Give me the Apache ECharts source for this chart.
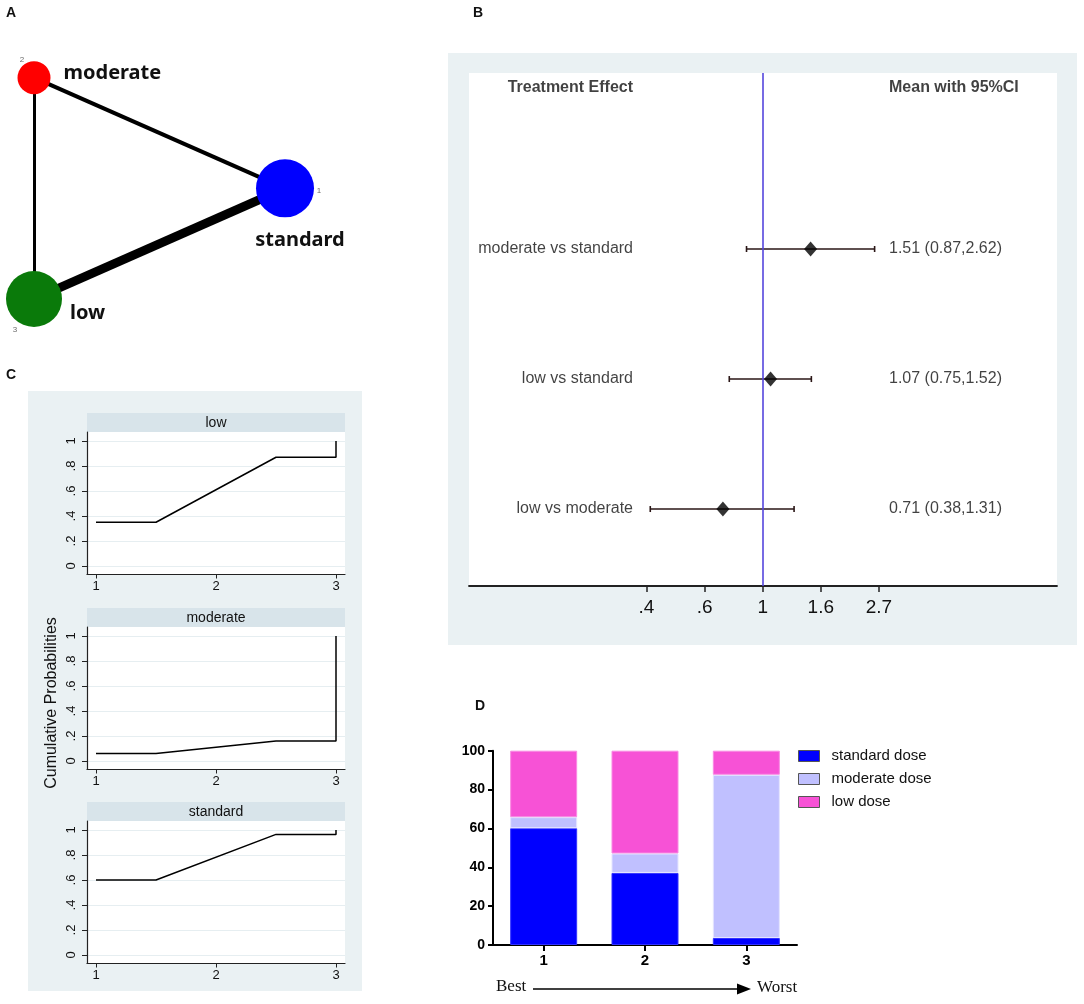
<!DOCTYPE html>
<html>
<head>
<meta charset="utf-8">
<script src="https://cdn.jsdelivr.net/npm/echarts@6.0.0/dist/echarts.min.js"></script>
<style>
html,body{margin:0;padding:0;background:#fff;}
#main{width:1084px;height:1004px;}
</style>
</head>
<body>
<div id="main"></div>
<script>
// ---------- Panel A: network ----------
const netNodes = ['standard', 'moderate', 'low'];
const netNodeIndex = ['1', '2', '3'];
const netNodePos = [[1, 0.5], [0, 1], [0, 0]];
const netNodeSize = [58, 33, 56];
const netNodeColor = ['#0000FF', '#FF0000', '#0A7A0A'];
const netEdges = [['moderate', 'standard'], ['moderate', 'low'], ['low', 'standard']];
const netEdgeWidth = [4, 3, 9];

// ---------- Panel B: forest plot ----------
const comparisons = ['moderate vs standard', 'low vs standard', 'low vs moderate'];
const effMean = [1.51, 1.07, 0.71];
const effLower = [0.87, 0.75, 0.38];
const effUpper = [2.62, 1.52, 1.31];
const forestTickPos = [-1, -0.5, 0, 0.5, 1];
const forestTickLabels = ['.4', '.6', '1', '1.6', '2.7'];

// ---------- Panel C: cumulative rank probabilities ----------
const cumTreatments = ['low', 'moderate', 'standard'];
const cumRanks = [1, 2, 3];
const cumLow = [0.35, 0.87, 1.0];
const cumModerate = [0.06, 0.16, 1.0];
const cumStandard = [0.60, 0.965, 1.0];
const cumYTicks = [0, 0.2, 0.4, 0.6, 0.8, 1];
const cumYTickLabels = ['0', '.2', '.4', '.6', '.8', '1'];

// ---------- Panel D: rank bar chart ----------
const rankCats = ['1', '2', '3'];
const barStandard = [60.1, 37.1, 3.6];
const barModerate = [5.7, 10.0, 84.0];
const barLow = [34.2, 52.9, 12.4];

const chart = echarts.init(document.getElementById('main'), null, {renderer: 'canvas'});
const SANS = 'Liberation Sans, Arial, sans-serif';

const grids = [];
const xAxes = [];
const yAxes = [];
const series = [];
const graphics = [];

// ===== Panel A =====
grids.push({left: 34, top: 77.7, width: 251, height: 221.3, show: false});
xAxes.push({gridIndex: 0, type: 'value', min: 0, max: 1, show: false});
yAxes.push({gridIndex: 0, type: 'value', min: 0, max: 1, show: false});
const labelCfg = {
  moderate: {position: 'right', distance: 13, offset: [0, -4]},
  standard: {position: 'bottom', distance: 13, offset: [15, 0]},
  low: {position: 'right', distance: 8, offset: [0, 14]}
};
const idxOffset = {moderate: [-12, -18], standard: [34, 2], low: [-19, 31]};
series.push({
  type: 'graph', coordinateSystem: 'cartesian2d', xAxisIndex: 0, yAxisIndex: 0,
  silent: true,
  data: netNodes.map((n, i) => ({
    name: n, value: netNodePos[i], symbolSize: netNodeSize[i],
    itemStyle: {color: netNodeColor[i]},
    label: Object.assign({show: true, formatter: n, fontSize: 20, fontWeight: 'bold',
      fontFamily: 'Noto Sans', color: '#111'}, labelCfg[n])
  })),
  links: netEdges.map((e, i) => ({source: e[0], target: e[1],
    lineStyle: {width: netEdgeWidth[i], color: '#000', opacity: 1}})),
  lineStyle: {color: '#000', opacity: 1, curveness: 0}
});
series.push({
  type: 'scatter', xAxisIndex: 0, yAxisIndex: 0, silent: true, symbolSize: 0, z: 5,
  data: netNodes.map((n, i) => ({value: netNodePos[i],
    label: {show: true, position: 'inside', formatter: netNodeIndex[i], offset: idxOffset[n],
      fontSize: 8, color: '#444', fontFamily: SANS}}))
});

// ===== Panel B =====
graphics.push({type: 'rect', shape: {x: 448, y: 53, width: 629, height: 592}, style: {fill: '#EAF1F3'}, z: -10, silent: true});
grids.push({left: 469, top: 73, width: 588, height: 513, show: true, backgroundColor: '#fff', borderWidth: 0});
const pxPerLog = 116.2, zeroPx = 762.7;
xAxes.push({gridIndex: 1, type: 'value', min: (469 - zeroPx) / pxPerLog, max: (1057 - zeroPx) / pxPerLog,
  axisLine: {show: true, onZero: false, lineStyle: {color: '#222', width: 1.8}},
  axisTick: {show: true, customValues: forestTickPos, length: 6, lineStyle: {color: '#222', width: 1.5}},
  axisLabel: {show: true, customValues: forestTickPos, margin: 12, fontSize: 19, color: '#111', fontFamily: SANS,
    formatter: v => forestTickLabels[forestTickPos.findIndex(t => Math.abs(t - v) < 1e-6)] || ''},
  splitLine: {show: false}
});
const rowY = i => comparisons.length - i; // 3,2,1
const headerY = 4.24;
yAxes.push({gridIndex: 1, type: 'value', min: 0.408, max: 4.354, show: false});
const textX = (633 - zeroPx) / pxPerLog;
const ciX = (889 - zeroPx) / pxPerLog;
const txtStyle = {fontSize: 16, color: '#111', fontFamily: SANS};
// error bars
series.push({
  type: 'custom', xAxisIndex: 1, yAxisIndex: 1, silent: true, z: 3,
  data: comparisons.map((c, i) => [rowY(i), Math.log(effLower[i]), Math.log(effUpper[i])]),
  encode: {x: [1, 2], y: 0},
  renderItem: (params, api) => {
    const y = api.value(0);
    const p1 = api.coord([api.value(1), y]);
    const p2 = api.coord([api.value(2), y]);
    const st = {stroke: '#2a1616', lineWidth: 1.6};
    return {type: 'group', children: [
      {type: 'line', shape: {x1: p1[0], y1: p1[1], x2: p2[0], y2: p2[1]}, style: st},
      {type: 'line', shape: {x1: p1[0], y1: p1[1] - 3, x2: p1[0], y2: p1[1] + 3}, style: st},
      {type: 'line', shape: {x1: p2[0], y1: p2[1] - 3, x2: p2[0], y2: p2[1] + 3}, style: st}
    ]};
  },
  markLine: {silent: true, symbol: 'none', label: {show: false},
    lineStyle: {color: '#5546DD', width: 1.6, type: 'solid'},
    data: [{xAxis: 0}]}
});
// point estimates
series.push({
  type: 'scatter', xAxisIndex: 1, yAxisIndex: 1, silent: true, z: 4,
  symbol: 'diamond', symbolSize: [13, 15], itemStyle: {color: '#000'},
  data: comparisons.map((c, i) => [Math.log(effMean[i]), rowY(i)])
});
// row labels and header
series.push({
  type: 'scatter', xAxisIndex: 1, yAxisIndex: 1, silent: true, symbolSize: 0,
  data: comparisons.map((c, i) => ({value: [textX, rowY(i)],
    label: Object.assign({show: true, position: 'left', distance: 0, formatter: c}, txtStyle)}))
    .concat([{value: [textX, headerY],
      label: Object.assign({show: true, position: 'left', distance: 0, formatter: 'Treatment Effect', fontWeight: 'bold'}, txtStyle)}])
});
series.push({
  type: 'scatter', xAxisIndex: 1, yAxisIndex: 1, silent: true, symbolSize: 0,
  data: comparisons.map((c, i) => ({value: [ciX, rowY(i)],
    label: Object.assign({show: true, position: 'right', distance: 0,
      formatter: effMean[i].toFixed(2) + ' (' + effLower[i].toFixed(2) + ',' + effUpper[i].toFixed(2) + ')'}, txtStyle)}))
    .concat([{value: [ciX, headerY],
      label: Object.assign({show: true, position: 'right', distance: 0, formatter: 'Mean with 95%CI', fontWeight: 'bold'}, txtStyle)}])
});

// ===== Panel C =====
graphics.push({type: 'rect', shape: {x: 28, y: 391, width: 334, height: 600}, style: {fill: '#EAF1F3'}, z: -10, silent: true});
const cumData = [cumLow, cumModerate, cumStandard];
const headerTops = [413, 608, 802];
headerTops.forEach((H, k) => {
  const gi = grids.length;
  grids.push({left: 87, top: H + 19, width: 258, height: 142.5, show: true, backgroundColor: '#fff', borderWidth: 0});
  xAxes.push({gridIndex: gi, type: 'value', min: 0.925, max: 3.075,
    axisLine: {show: true, onZero: false, lineStyle: {color: '#222', width: 1.2}},
    axisTick: {show: true, customValues: cumRanks, length: 4, lineStyle: {color: '#222'}},
    axisLabel: {show: true, customValues: cumRanks, margin: 5, fontSize: 13, color: '#111', fontFamily: SANS},
    splitLine: {show: false}
  });
  yAxes.push({gridIndex: gi, type: 'value', min: -0.068, max: 1.072,
    axisLine: {show: true, onZero: false, lineStyle: {color: '#222', width: 1.2}},
    axisTick: {show: true, customValues: cumYTicks, length: 5, lineStyle: {color: '#222'}},
    axisLabel: {show: true, customValues: cumYTicks, rotate: 90, margin: 9, fontSize: 13, color: '#111', fontFamily: SANS,
      formatter: v => cumYTickLabels[cumYTicks.findIndex(t => Math.abs(t - v) < 1e-6)] || ''},
    splitLine: {show: true, lineStyle: {color: '#E6EEF1', width: 1}}
  });
  const c = cumData[k];
  series.push({
    type: 'line', xAxisIndex: gi, yAxisIndex: gi, silent: true, symbol: 'none',
    lineStyle: {color: '#000', width: 1.5},
    data: [[cumRanks[0], c[0]], [(cumRanks[0] + cumRanks[1]) / 2, c[0]],
           [(cumRanks[1] + cumRanks[2]) / 2, c[1]], [cumRanks[2], c[1]], [cumRanks[2], c[2]]]
  });
  graphics.push({type: 'rect', shape: {x: 87, y: H, width: 258, height: 19}, style: {fill: '#D8E4EA'}, z: -5, silent: true});
  graphics.push({type: 'text', x: 216, y: H + 10, style: {text: cumTreatments[k], fontSize: 14, fill: '#111',
    fontFamily: SANS, textAlign: 'center', textVerticalAlign: 'middle'}, silent: true});
});
graphics.push({type: 'text', x: 52, y: 703, rotation: Math.PI / 2,
  style: {text: 'Cumulative Probabilities', fontSize: 16, fill: '#111', fontFamily: SANS,
    textAlign: 'center', textVerticalAlign: 'middle'}, silent: true});

// ===== Panel D =====
const gD = grids.length;
grids.push({left: 493, top: 750.7, width: 304, height: 194.3, show: false});
xAxes.push({gridIndex: gD, type: 'category', data: rankCats,
  axisLine: {show: true, lineStyle: {color: '#000', width: 2}},
  axisTick: {show: true, alignWithLabel: true, length: 6, lineStyle: {color: '#000', width: 2}},
  axisLabel: {margin: 8, fontSize: 15, fontWeight: 'bold', color: '#000', fontFamily: SANS}
});
yAxes.push({gridIndex: gD, type: 'value', min: 0, max: 100, interval: 20,
  axisLine: {show: true, lineStyle: {color: '#000', width: 2}},
  axisTick: {show: true, length: 5, lineStyle: {color: '#000', width: 2}},
  axisLabel: {margin: 8, fontSize: 14, fontWeight: 'bold', color: '#000', fontFamily: SANS},
  splitLine: {show: false}
});
const barDefs = [
  ['standard dose', barStandard, '#0000FF', '#3333ff'],
  ['moderate dose', barModerate, '#C0C0FF', '#e4e4ff'],
  ['low dose', barLow, '#F752D6', '#f98ae3']
];
barDefs.forEach(d => {
  series.push({type: 'bar', name: d[0], xAxisIndex: gD, yAxisIndex: gD, stack: 'rank', silent: true,
    barWidth: 67, data: d[1], itemStyle: {color: d[2], borderColor: d[3], borderWidth: 1}});
});

// Best -> Worst
graphics.push({type: 'text', x: 496, y: 987, style: {text: 'Best', fontSize: 17, fill: '#111',
  fontFamily: 'Liberation Serif, Times New Roman, serif', textVerticalAlign: 'middle'}, silent: true});
graphics.push({type: 'text', x: 757, y: 988, style: {text: 'Worst', fontSize: 17, fill: '#111',
  fontFamily: 'Liberation Serif, Times New Roman, serif', textVerticalAlign: 'middle'}, silent: true});
graphics.push({type: 'line', shape: {x1: 533, y1: 989, x2: 740, y2: 989}, style: {stroke: '#000', lineWidth: 1.5}, silent: true});
graphics.push({type: 'polygon', shape: {points: [[737, 983.5], [751, 989], [737, 994.5]]}, style: {fill: '#000'}, silent: true});

// Panel letters
[['A', 11, 13], ['B', 478, 13], ['C', 11, 375], ['D', 480, 706]].forEach(p => {
  graphics.push({type: 'text', x: p[1], y: p[2], style: {text: p[0], fontSize: 14, fontWeight: 'bold', fill: '#111',
    fontFamily: SANS, textAlign: 'center', textVerticalAlign: 'middle'}, silent: true});
});

chart.setOption({
  backgroundColor: '#fff',
  animation: false,
  grid: grids,
  xAxis: xAxes,
  yAxis: yAxes,
  legend: {
    data: barDefs.map(d => d[0]), orient: 'vertical', left: 798, top: 748, padding: 0,
    itemWidth: 21, itemHeight: 11, itemGap: 7, selectedMode: false,
    icon: 'rect',
    itemStyle: {borderColor: '#555', borderWidth: 1},
    textStyle: {fontSize: 15, color: '#111', fontFamily: SANS, padding: [0, 0, 0, 7], lineHeight: 16}
  },
  graphic: graphics,
  series: series
});
</script>
</body>
</html>
